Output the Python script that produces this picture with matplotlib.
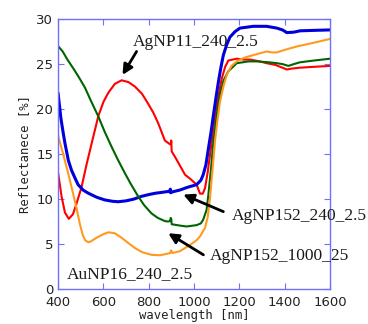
import matplotlib
matplotlib.use('Agg')
import matplotlib.pyplot as plt

# reflectance spectra
red_x = [400, 415, 430, 447, 465, 480, 503, 525, 548, 577, 600, 621, 650,
         680, 710, 739, 770, 797, 820, 842, 871, 893, 898, 899, 901, 920,
         960, 985, 1011, 1026, 1038, 1048, 1060, 1070, 1092, 1108, 1122,
         1137, 1151, 1188, 1220, 1247, 1290, 1320, 1360, 1409, 1430, 1467,
         1530, 1600]
red_y = [12.9, 10.3, 8.5, 7.8, 8.3, 9.4, 11.3, 13.8, 16.2, 19.2, 20.8, 21.8,
         22.8, 23.2, 23.0, 22.5, 21.7, 20.6, 19.6, 18.4, 16.5, 16.1, 16.1,
         16.5, 15.3, 14.5, 12.7, 12.2, 11.6, 10.6, 10.6, 11.2, 13.0, 14.9,
         19.3, 21.6, 23.4, 24.7, 25.4, 25.6, 25.5, 25.5, 25.3, 25.1, 24.9,
         24.4, 24.5, 24.6, 24.7, 24.8]

blue_x = [400, 412, 422, 430, 445, 459, 475, 488, 510, 533, 570, 606, 640,
          665, 700, 735, 768, 800, 830, 860, 887, 893, 895, 897, 905, 937,
          970, 1011, 1030, 1040, 1052, 1063, 1075, 1085, 1096, 1107, 1118,
          1129, 1143, 1158, 1180, 1202, 1261, 1320, 1365, 1390, 1409, 1440,
          1468, 1530, 1600]
blue_y = [21.7, 19.0, 17.4, 16.2, 14.3, 13.2, 12.3, 11.6, 11.0, 10.65, 10.2,
          9.9, 9.75, 9.7, 9.8, 10.0, 10.3, 10.5, 10.65, 10.75, 10.85, 10.8,
          11.1, 10.7, 10.8, 11.0, 11.3, 11.6, 12.1, 12.7, 13.8, 15.6, 17.5,
          19.3, 21.2, 23.0, 24.6, 26.0, 27.1, 28.0, 28.6, 29.0, 29.2, 29.2,
          29.0, 28.8, 28.5, 28.55, 28.7, 28.75, 28.8]

green_x = [400, 420, 441, 470, 490, 518, 545, 577, 605, 636, 665, 694, 720,
           753, 780, 812, 840, 871, 885, 893, 897, 899, 901, 937, 967, 1011,
           1030, 1040, 1055, 1063, 1075, 1085, 1100, 1114, 1130, 1151, 1188,
           1240, 1276, 1330, 1365, 1390, 1416, 1440, 1467, 1530, 1600]
green_y = [27.0, 26.4, 25.5, 24.4, 23.6, 22.4, 20.9, 19.2, 17.5, 15.8, 14.3,
           12.9, 11.7, 10.3, 9.3, 8.4, 7.9, 7.55, 7.5, 7.55, 7.9, 7.8, 7.2,
           7.05, 6.95, 7.1, 7.3, 7.7, 8.8, 10.5, 13.5, 16.4, 19.4, 21.6, 23.2,
           24.2, 25.1, 25.3, 25.3, 25.2, 25.1, 25.0, 24.8, 25.0, 25.2, 25.4,
           25.6]

orange_x = [400, 420, 444, 466, 481, 496, 510, 520, 533, 545, 560, 577, 600,
            621, 650, 680, 710, 739, 770, 812, 849, 878, 895, 898, 905, 937,
            982, 1010, 1026, 1048, 1060, 1070, 1081, 1092, 1103, 1114, 1130,
            1144, 1165, 1188, 1220, 1261, 1290, 1320, 1345, 1364, 1390, 1423,
            1460, 1497, 1550, 1600]
orange_y = [17.0, 15.2, 12.9, 10.6, 9.0, 7.2, 5.9, 5.4, 5.2, 5.3, 5.55, 5.8,
            6.1, 6.3, 6.2, 5.7, 5.1, 4.55, 4.1, 3.8, 3.75, 3.9, 4.0, 4.3, 4.0,
            4.2, 4.9, 5.4, 5.85, 6.8, 8.0, 10.1, 13.2, 16.4, 18.8, 20.8, 22.6,
            23.8, 24.8, 25.3, 25.7, 26.0, 26.2, 26.4, 26.3, 26.3, 26.5, 26.75,
            27.0, 27.2, 27.5, 27.8]

series = [
    (red_x, red_y, '#ff0000', 1.5),
    (blue_x, blue_y, '#0000dd', 2.2),
    (green_x, green_y, '#006400', 1.5),
    (orange_x, orange_y, '#ff9a1f', 1.5),
]

# text label, text position, arrow head (None -> no arrow)
labels = [
    ('AgNP11_240_2.5', (731, 27.5), (684, 23.8)),
    ('AgNP152_240_2.5', (1166, 8.1), (952, 10.5)),
    ('AgNP152_1000_25', (1070, 3.7), (886, 6.2)),
    ('AuNP16_240_2.5', (437, 1.6), None),
]
arrow_tails = [(746, 26.4), (1129, 8.6), (1041, 3.8)]

xticks = [400, 600, 800, 1000, 1200, 1400, 1600]
yticks = [0, 5, 10, 15, 20, 25, 30]

fig = plt.figure(figsize=(3.68, 3.24), dpi=100)
ax = fig.add_axes([0.158, 0.108, 0.739, 0.833])

for x, y, c, lw in series:
    ax.plot(x, y, color=c, lw=lw, solid_joinstyle='round')

ax.set_xlim(400, 1600)
ax.set_ylim(0, 30)
ax.set_xticks(xticks)
ax.set_yticks(yticks)
spine_col = '#7070ff'
for s in ax.spines.values():
    s.set_color(spine_col)
    s.set_linewidth(1.0)
ax.tick_params(direction='in', top=True, right=True, color=spine_col,
               length=4, labelsize=9.5, labelcolor='#222222')
ax.tick_params(axis='x', pad=5)
for lab in ax.get_xticklabels() + ax.get_yticklabels():
    lab.set_family('Liberation Sans Narrow')

ax.set_xlabel('wavelength [nm]', family='DejaVu Sans Mono', fontsize=8.8,
              labelpad=0, color='#222222')
ax.set_ylabel('Reflectanece [%]', family='DejaVu Sans Mono', fontsize=8.8,
              labelpad=4, color='#222222')

ai = 0
for text, pos, head in labels:
    ax.text(pos[0], pos[1], text, family='Liberation Serif', fontsize=12.5,
            ha='left', va='center', color='#1a1a1a', clip_on=False)
    if head is not None:
        ax.annotate('', xy=head, xytext=arrow_tails[ai],
                    arrowprops=dict(arrowstyle='-|>,head_length=0.6,head_width=0.3',
                                    color='black', lw=2.0,
                                    shrinkA=0, shrinkB=0),
                    annotation_clip=False)
        ai += 1

fig.savefig('out.png', dpi=100)
